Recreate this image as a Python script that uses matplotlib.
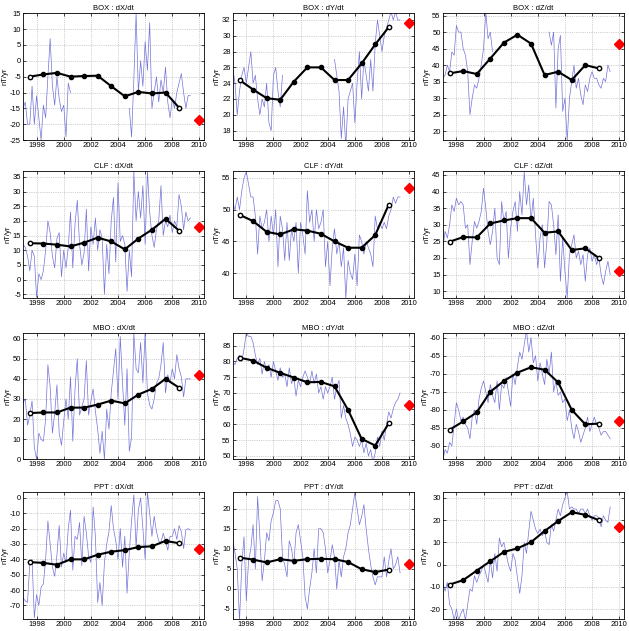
import numpy as np
import matplotlib
matplotlib.use('Agg')
import matplotlib.pyplot as plt

plt.rcParams['font.family'] = ['Liberation Sans', 'DejaVu Sans']
plt.rcParams['axes.unicode_minus'] = False

nan = np.nan

# serie bimestral (1997.0 ate 2009.33, 6 valores por ano)
t_ini = 1997.0
n_pts = 75
# medias anuais no meio do ano
anos = [1997.5, 1998.5, 1999.5, 2000.5, 2001.5, 2002.5,
        2003.5, 2004.5, 2005.5, 2006.5, 2007.5, 2008.5]
ano_prev = 2010.0

#--- BOX
box_dx = [-15, -13, -20, -20, -8, -20,
          -11, -18, -25, -14, -18, -5,
          7, -8, -14, -5, -12, -16,
          -14, -24, -7, -10, nan, nan,
          nan, nan, nan, nan, nan, nan,
          nan, nan, nan, nan, nan, nan,
          nan, nan, nan, nan, nan, nan,
          nan, nan, nan, nan, nan, -15,
          -24, -6, 15, -10, 0, -8,
          6, -3, 12, -15, -10, -5,
          -13, -6, -10, -2, -13, -18,
          -12, -15, -10, -7, -4, -10,
          -15, -11, -11]
box_dx_ano = [-5, -4.3, -3.8, -5, -4.8, -4.7, -8, -11.2, -9.8, -10.3, -10, -14.8]
box_dx_prev = -18.7

box_dy = [26, 24, 20, 23, 25, 26,
          24, 26, 28, 24, 25, 22,
          20, 22, 21, 24, 19, 18,
          25, 26, 23, 21, 25, nan,
          nan, nan, nan, nan, nan, nan,
          nan, nan, nan, nan, nan, nan,
          nan, nan, nan, nan, nan, nan,
          nan, nan, nan, 27, 25, 23,
          17, 21, 16, 22, 23, 24,
          19, 24, 28, 22, 27, 25,
          23, 27, 23, 29, 32, 30,
          28, 30, 31, 32, 33, 32,
          33, 32, 32]
box_dy_ano = [24.4, 23.2, 22.1, 21.9, 24.2, 26, 26, 24.4, 24.4, 26.5, 28.9, 31.1]
box_dy_prev = 31.6

box_dz = [36, 37, 40, 38, 44, 43,
          52, 50, 50, 45, 43, 38,
          25, 30, 34, 33, 36, 40,
          45, 56, 48, 50, 44, nan,
          nan, nan, nan, nan, nan, nan,
          nan, nan, nan, nan, nan, nan,
          nan, nan, nan, nan, nan, nan,
          nan, nan, nan, nan, nan, 50,
          46, 50, 27, 45, 49, 26,
          30, 17, 30, 35, 40, 33,
          36, 31, 28, 34, 32, 36,
          38, 36, 36, 34, 33, 36,
          35, 40, 38]
box_dz_ano = [37.5, 38.2, 37.3, 42, 46.8, 49.2, 46.5, 37, 38, 35.5, 40, 39]
box_dz_prev = 46.3

#--- CLF
clf_dx = [12, 11, 8, 3, 10, 8,
          -6, 2, 0, 3, 10, 20,
          16, 8, 4, 14, 16, 1,
          10, 4, 11, 23, 4, 19,
          27, 12, 5, 9, 24, 3,
          18, 12, 21, 10, 17, 14,
          -5, 12, 2, 20, 28, 6,
          33, 13, 15, 12, -4, 10,
          1, 37, 20, 30, 21, 32,
          12, 37, 23, 15, 11, 17,
          20, 32, 15, 20, 18, 22,
          16, 20, 18, 29, 25, 17,
          23, 20, 21]
clf_dx_ano = [12.4, 12.3, 11.9, 11.3, 12.6, 14.3, 13, 10.3, 14, 17, 20.7, 16.7]
clf_dx_prev = 17.8

clf_dy = [51, 50, 52, 50, 53, 55,
          56, 54, 52, 52, 49, 43,
          49, 47, 48, 50, 45, 49,
          46, 50, 41, 49, 47, 42,
          48, 42, 47, 45, 48, 40,
          48, 46, 43, 53, 48, 50,
          45, 50, 47, 48, 50, 41,
          45, 38, 44, 47, 43, 45,
          41, 44, 36, 42, 40, 39,
          43, 38, 46, 45, 43, 45,
          44, 43, 41, 49, 47, 48,
          47, 48, 47, 49, 50, 52,
          51, 52, 52]
clf_dy_ano = [49.2, 48.2, 46.5, 46.1, 46.9, 46.7, 46.2, 45, 44, 44, 46, 50.8]
clf_dy_prev = 53.4

clf_dz = [23, 28, 26, 30, 36, 34,
          38, 36, 37, 36, 29, 30,
          18, 25, 31, 29, 31, 34,
          41, 35, 28, 24, 28, 35,
          20, 18, 37, 31, 34, 20,
          29, 34, 37, 28, 40, 33,
          46, 36, 42, 31, 38, 27,
          17, 26, 30, 17, 25, 37,
          36, 30, 21, 33, 13, 26,
          16, 8, 21, 24, 27, 20,
          22, 18, 21, 13, 21, 23,
          19, 21, 18, 20, 15, 12,
          16, 19, 15]
clf_dz_ano = [24.9, 26.3, 26.2, 30.4, 31.3, 32, 32, 27.6, 28, 22.4, 22.9, 20]
clf_dz_prev = 16.2

#--- MBO
mbo_dx = [28, 30, 17, 22, 29, 6,
          0, 13, 10, 9, 20, 47,
          36, 13, 23, 37, 13, 7,
          19, 30, 20, 41, 9, 35,
          50, 22, 26, 30, 49, 22,
          29, 35, 24, 15, 3, 14,
          0, 25, 15, 33, 44, 55,
          30, 61, 38, 17, 45, 4,
          11, 63, 45, 43, 58, 38,
          63, 33, 27, 25, 30, 38,
          40, 47, 58, 33, 42, 38,
          45, 40, 52, 45, 41, 31,
          40, 40, 40]
mbo_dx_ano = [23, 23.3, 23.3, 25.7, 25.7, 27.2, 29.2, 27.8, 32.2, 35, 40, 35.6]
mbo_dx_prev = 41.8

mbo_dy = [80, 79, 81, 82, 80, 84,
          89, 88, 88, 86, 82, 79,
          81, 76, 80, 77, 79, 75,
          80, 77, 74, 78, 75, 76,
          72, 78, 73, 75, 69, 74,
          72, 75, 77, 75, 73, 77,
          73, 76, 70, 72, 68, 72,
          70, 72, 75, 68, 72, 74,
          62, 66, 62, 60, 57, 53,
          56, 55, 53, 55, 51, 54,
          50, 52, 48, 51, 56, 53,
          58, 55, 60, 64, 62, 65,
          67, 68, 70]
mbo_dy_ano = [81.2, 80.3, 78, 76.4, 74.9, 73.4, 73.5, 72.1, 64.6, 55.4, 53.3, 60.4]
mbo_dy_prev = 66.2

mbo_dz = [-94, -91, -92, -89, -90, -84,
          -78, -80, -83, -82, -84, -85,
          -88, -82, -80, -84, -77, -74,
          -72, -75, -78, -73, -76, -78,
          -72, -80, -73, -74, -71, -75,
          -79, -70, -73, -68, -64, -66,
          -62, -58, -64, -60, -67, -65,
          -72, -67, -70, -73, -66, -70,
          -64, -75, -72, -76, -75, -78,
          -77, -83, -80, -85, -88, -84,
          -86, -89, -87, -85, -82, -86,
          -84, -82, -84, -85, -87, -86,
          -86, -87, -88]
mbo_dz_ano = [-85.5, -83.2, -80.7, -75, -72, -69.7, -68.2, -68.9, -72.4, -80, -84, -83.8]
mbo_dz_prev = -83

#--- PPT
ppt_dx = [-65, -67, -68, -42, -40, -78,
          -63, -70, -58, -56, -40, -15,
          -30, -45, -51, -37, -18, -45,
          -36, -42, -20, -8, -47, -25,
          -27, -16, -44, -12, -23, -38,
          -42, -6, -25, -68, -55, -70,
          -42, -30, -22, -5, -20, -28,
          -40, -20, -45, -25, -62, -35,
          -15, 2, -32, -8, 0, -20,
          -40, 4, -10, -25, -12, -22,
          -28, -29, -23, -28, -34, -25,
          -25, -20, -27, -18, -22, -33,
          -21, -20, -21]
ppt_dx_ano = [-41.8, -42.3, -43.5, -40, -40, -37, -35, -34, -32, -31.5, -28, -29.5]
ppt_dx_prev = -33

ppt_dy = [12, 9, 5, -8, 6, 13,
          -3, 7, 10, 16, 5, 23,
          13, 2, 7, 14, 12, 17,
          19, 22, 22, 20, 8, 6,
          3, 12, 10, 6, 14, 16,
          12, 8, -2, -5, 0, 4,
          10, 4, 15, 15, 14, 10,
          4, 7, 11, 8, 0, 7,
          3, 8, 10, 14, 16, 20,
          24, 20, 16, 18, 21, 15,
          10, 6, 3, 1, 3, 3,
          3, 8, 3, 7, 10, 5,
          6, 8, 4]
ppt_dy_ano = [7.8, 7.3, 6.6, 7.4, 7, 7.4, 7.5, 7.4, 6.7, 4.9, 4.2, 4.8]
ppt_dy_prev = 6.1

ppt_dz = [-8, -12, -8, -18, -20, -25,
          -20, -25, -22, -20, -25, -18,
          -11, -12, -5, -8, -5, -3,
          0, -4, -8, 2, -6, 5,
          -3, 12, 8, 10, 5, 0,
          -3, 5, 2, -6, -13, -5,
          10, 5, 15, 24, 20, 16,
          14, 16, 13, 15, 10, 9,
          18, 15, 20, 25, 22, 27,
          30, 33, 25, 26, 25, 25,
          23, 25, 25, 23, 25, 22,
          20, 22, 22, 21, 17, 22,
          20, 19, 26]
ppt_dz_ano = [-9, -7, -2.7, 1.5, 5.7, 7.3, 10.1, 15.1, 19.6, 23.6, 22.4, 20]
ppt_dz_prev = 17

# titulo, serie, medias, previsao, limites y, ticks y
paineis = [
    ('BOX : dX/dt', box_dx, box_dx_ano, box_dx_prev, (-25, 15), np.arange(-25, 16, 5)),
    ('BOX : dY/dt', box_dy, box_dy_ano, box_dy_prev, (16.8, 32.85), np.arange(18, 33, 2)),
    ('BOX : dZ/dt', box_dz, box_dz_ano, box_dz_prev, (17.3, 55.7), np.arange(20, 56, 5)),
    ('CLF : dX/dt', clf_dx, clf_dx_ano, clf_dx_prev, (-6.2, 37), np.arange(-5, 36, 5)),
    ('CLF : dY/dt', clf_dy, clf_dy_ano, clf_dy_prev, (36.1, 56.1), np.arange(40, 56, 5)),
    ('CLF : dZ/dt', clf_dz, clf_dz_ano, clf_dz_prev, (8, 46.2), np.arange(10, 46, 5)),
    ('MBO : dX/dt', mbo_dx, mbo_dx_ano, mbo_dx_prev, (0, 63), np.arange(0, 61, 10)),
    ('MBO : dY/dt', mbo_dy, mbo_dy_ano, mbo_dy_prev, (48.9, 89.2), np.arange(50, 86, 5)),
    ('MBO : dZ/dt', mbo_dz, mbo_dz_ano, mbo_dz_prev, (-93.7, -58.6), np.arange(-90, -59, 5)),
    ('PPT : dX/dt', ppt_dx, ppt_dx_ano, ppt_dx_prev, (-78.8, 3.7), np.arange(-70, 1, 10)),
    ('PPT : dY/dt', ppt_dy, ppt_dy_ano, ppt_dy_prev, (-7.5, 24.1), np.arange(-5, 21, 5)),
    ('PPT : dZ/dt', ppt_dz, ppt_dz_ano, ppt_dz_prev, (-24.5, 32.6), np.arange(-20, 31, 10)),
]

t = t_ini + np.arange(n_pts) / 6.

fig = plt.figure(figsize=(6.29, 6.31), dpi=100)
esq = [0.0366, 0.370, 0.704]
base = [0.778, 0.528, 0.272, 0.019]
larg = 0.288
alt = 0.201

for i, (tit, serie, media, prev, ylim, yt) in enumerate(paineis):
    ax = fig.add_axes([esq[i % 3], base[i // 3], larg, alt])
    ax.plot(t, serie, color=(0.45, 0.45, 0.85), lw=0.5)
    ax.plot(anos, media, color='k', lw=1.5, marker='o', ms=3.0,
            mfc='k', mec='k')
    ax.plot([anos[0], anos[-1]], [media[0], media[-1]], ls='none', marker='o',
            ms=3.0, mfc='w', mec='k', mew=0.9)
    ax.plot([ano_prev], [prev], ls='none', marker='D', ms=5.2, color='red')
    ax.set_xlim(1997.0, 2010.35)
    ax.set_ylim(ylim)
    ax.set_xticks([1998, 2000, 2002, 2004, 2006, 2008, 2010])
    ax.set_yticks(yt)
    ax.grid(True, ls=':', color='0.65', lw=0.5)
    ax.tick_params(labelsize=5.5, direction='in', length=2, width=0.5,
                   top=True, right=True, pad=1.5)
    for s in ax.spines.values():
        s.set_linewidth(0.6)
    ax.set_title(tit, fontsize=5.5, pad=2)
    ax.set_ylabel('nT/yr', fontsize=5.5, labelpad=1)

fig.savefig('out.png', dpi=100)
